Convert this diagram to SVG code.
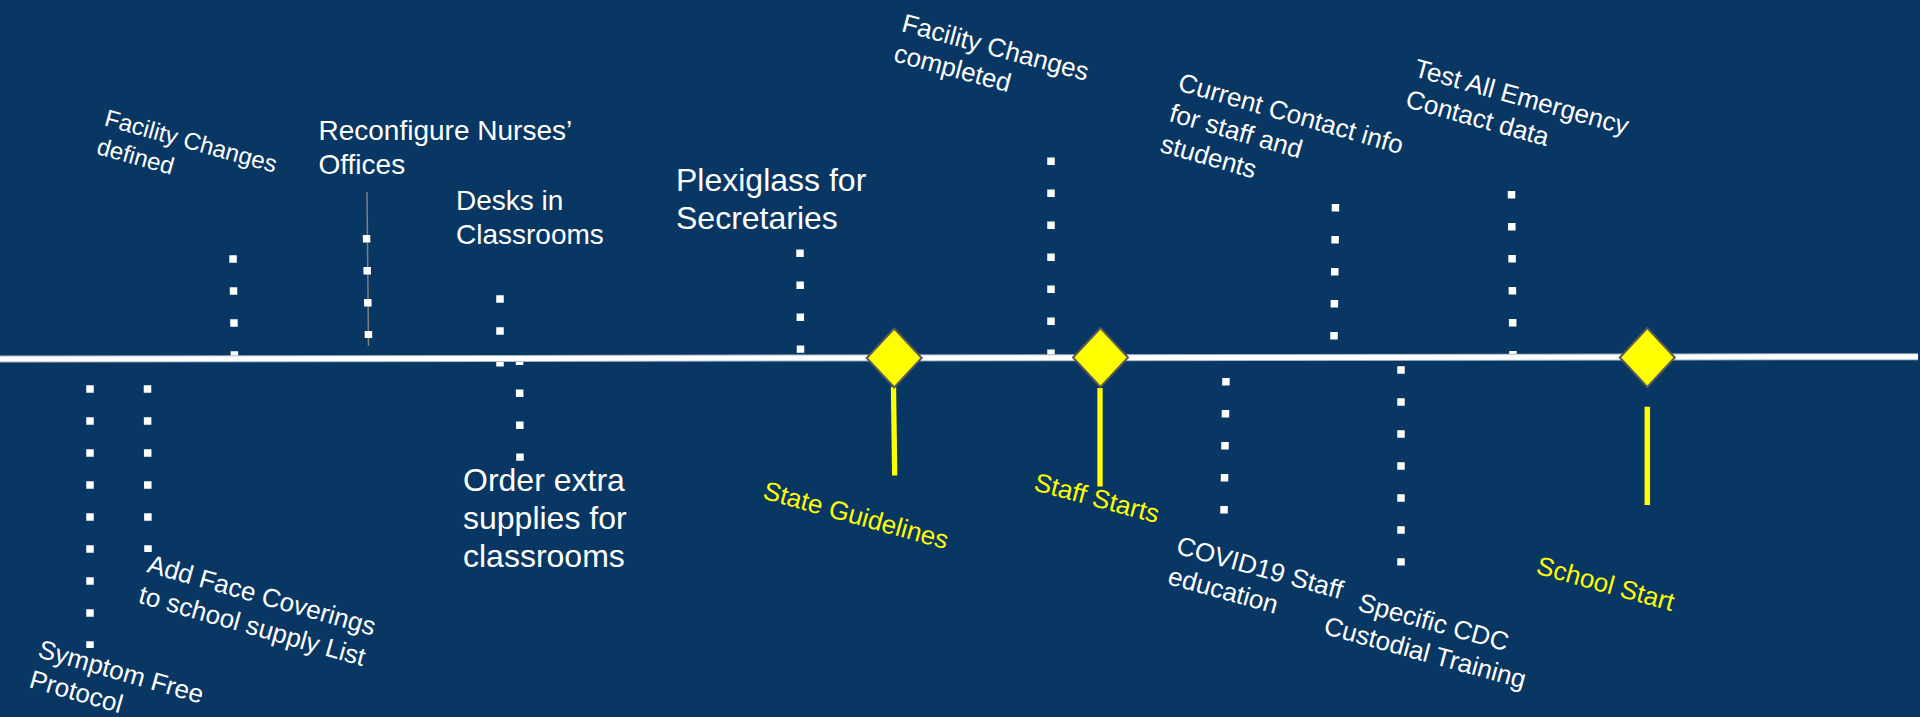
<svg xmlns="http://www.w3.org/2000/svg" width="1920" height="717" viewBox="0 0 1920 717">
<style>
.w{fill:#FFFFFF;font-family:"Liberation Sans",Arial,sans-serif}
.y{fill:#FFFF00;font-family:"Liberation Sans",Arial,sans-serif}
.dot{stroke:#FFFFFF;stroke-width:7.5;stroke-dasharray:7.5 24.5;fill:none}
.stem{stroke:#FFFF00;fill:none}
.dia{fill:#FFFF00;stroke:#595959;stroke-width:2}
</style>
<rect width="1920" height="717" fill="#093763"/>
<g id="connectors">
<line x1="367" y1="192" x2="368.5" y2="346" stroke="#7F7F7F" stroke-width="1.5"/>
<line class="dot" x1="233" y1="255.25" x2="234.5" y2="358.75"/>
<line class="dot" x1="366.5" y1="235" x2="368.5" y2="338"/>
<line class="dot" x1="500" y1="295.25" x2="500" y2="366.5"/>
<line class="dot" x1="519.5" y1="357.5" x2="520" y2="460.75"/>
<line class="dot" x1="800" y1="249.5" x2="800.5" y2="352.75"/>
<line class="dot" x1="1051" y1="157.5" x2="1051" y2="358"/>
<line class="dot" x1="1335.5" y1="204" x2="1334" y2="339.75"/>
<line class="dot" x1="1511.5" y1="191" x2="1513" y2="358"/>
<line class="dot" x1="1226" y1="378" x2="1224" y2="513.5"/>
<line class="dot" x1="1401" y1="366.25" x2="1401" y2="565.5"/>
<line class="dot" x1="90" y1="385.25" x2="90" y2="648"/>
<line class="dot" x1="147.5" y1="385.25" x2="148" y2="552"/>
<line class="stem" x1="893.5" y1="387" x2="894.7" y2="475.5" stroke-width="5.3"/>
<line class="stem" x1="1100" y1="388" x2="1100" y2="486.5" stroke-width="5.3"/>
<line class="stem" x1="1647.3" y1="406.7" x2="1647.3" y2="505" stroke-width="5.5"/>
</g>
<g id="timeline">
<line x1="0" y1="359" x2="1918" y2="356.7" stroke="#A9B6C6" stroke-width="7"/>
<line x1="0" y1="359" x2="1918" y2="356.7" stroke="#FFFFFF" stroke-width="5"/>
</g>
<g id="m-state"><polygon class="dia" points="894.2,328.5 921.7,358 894.2,387.5 866.7,358"/>
<text class="y" font-size="26" transform="translate(761.7,498.3) rotate(15.5)">State Guidelines</text></g>
<g id="m-staff"><polygon class="dia" points="1100.5,328 1128,357.5 1100.5,387 1073,357.5"/>
<text class="y" font-size="26" transform="translate(1032.7,490) rotate(15)">Staff Starts</text></g>
<g id="m-school"><polygon class="dia" points="1647.3,328 1674.8,357.5 1647.3,387 1619.8,357.5"/>
<text class="y" font-size="26" transform="translate(1535,573.3) rotate(15.5)">School Start</text></g>
<g id="t-facdef"><text class="w" font-size="24" transform="translate(103.3,125.3) rotate(15.5)"><tspan x="0" y="0">Facility Changes</tspan><tspan x="0" y="29.5">defined</tspan></text></g>
<g id="t-nurses"><text class="w" font-size="28"><tspan x="318.5" y="140">Reconfigure Nurses’</tspan><tspan x="318.5" y="173.5">Offices</tspan></text></g>
<g id="t-desks"><text class="w" font-size="28"><tspan x="456" y="210">Desks in</tspan><tspan x="456" y="244">Classrooms</tspan></text></g>
<g id="t-plexi"><text class="w" font-size="32"><tspan x="676" y="191">Plexiglass for</tspan><tspan x="676" y="229">Secretaries</tspan></text></g>
<g id="t-order"><text class="w" font-size="32"><tspan x="463" y="490.7">Order extra</tspan><tspan x="463" y="528.7">supplies for</tspan><tspan x="463" y="566.7">classrooms</tspan></text></g>
<g id="t-faccomp"><text class="w" font-size="26" transform="translate(900.5,31) rotate(15)"><tspan x="0" y="0">Facility Changes</tspan><tspan x="0" y="31.2">completed</tspan></text></g>
<g id="t-contact"><text class="w" font-size="26" transform="translate(1176.7,90) rotate(16)"><tspan x="0" y="0">Current Contact info</tspan><tspan x="0" y="32">for staff and</tspan><tspan x="0" y="64">students</tspan></text></g>
<g id="t-test"><text class="w" font-size="26" transform="translate(1412.7,76) rotate(15.5)"><tspan x="0" y="0">Test All Emergency</tspan><tspan x="0" y="32">Contact data</tspan></text></g>
<g id="t-covid"><text class="w" font-size="26" transform="translate(1175,553.3) rotate(15.5)"><tspan x="0" y="0">COVID19 Staff</tspan><tspan x="0" y="31.5">education</tspan></text></g>
<g id="t-cdc"><text class="w" font-size="26" text-anchor="middle" transform="translate(1431.2,630.7) rotate(15.3)"><tspan x="0" y="0">Specific CDC</tspan><tspan x="0" y="31.5">Custodial Training</tspan></text></g>
<g id="t-symptom"><text class="w" font-size="26" transform="translate(36.7,656.7) rotate(16)"><tspan x="0" y="0">Symptom Free</tspan><tspan x="0" y="31.5">Protocol</tspan></text></g>
<g id="t-face"><text class="w" font-size="26" transform="translate(146,571.7) rotate(15.8)"><tspan x="0" y="0">Add Face Coverings</tspan><tspan x="0" y="32">to school supply List</tspan></text></g>
</svg>
